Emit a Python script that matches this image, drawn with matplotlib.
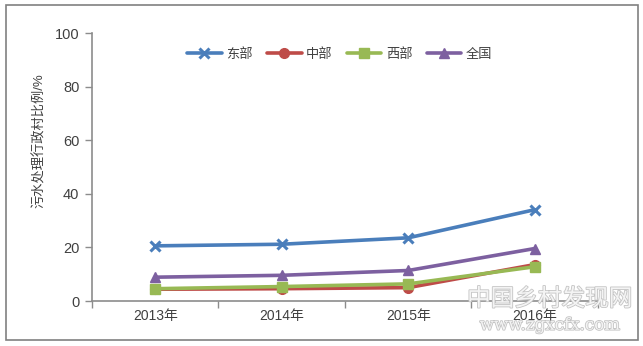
import matplotlib
matplotlib.use('Agg')
import matplotlib.pyplot as plt
import matplotlib.patheffects as pe
from matplotlib.patches import Rectangle
import numpy as np

plt.rcParams['font.family'] = ['Liberation Sans', 'Noto Sans CJK SC']

years = ['2013年', '2014年', '2015年', '2016年']
east = [20.6, 21.2, 23.6, 34.1]
central = [4.4, 4.6, 5.0, 13.6]
west = [4.6, 5.4, 6.4, 12.8]
national = [8.9, 9.6, 11.4, 19.6]

series = [
    ('东部', east, '#4a7ebb', 'x'),
    ('中部', central, '#be4b48', 'o'),
    ('西部', west, '#98b954', 's'),
    ('全国', national, '#7d60a0', '^'),
]

axis_col = '#8c8c8c'
text_col = '#404040'

fig = plt.figure(figsize=(6.43, 3.46), dpi=100)
ax = fig.add_axes([0.143, 0.130, 0.787, 0.774])

x = np.arange(len(years))
for name, vals, col, mk in series:
    ax.plot(x, vals, color=col, lw=2.6, marker=mk, ms=7,
            mew=2.2 if mk == 'x' else 1, label=name, solid_capstyle='round')

ax.set_xlim(-0.5, len(years) - 0.5)
ax.set_ylim(0, 100)
ax.set_yticks(np.arange(0, 101, 20))
ax.set_xticks(x)
ax.set_xticklabels(years)
ax.set_xticks(np.arange(-0.5, len(years), 1.0), minor=True)
ax.tick_params(axis='x', which='major', length=0, pad=6,
               labelsize=10, labelcolor=text_col)
ax.tick_params(axis='x', which='minor', length=5, color=axis_col, width=1)
ax.tick_params(axis='y', length=5, color=axis_col, width=1, pad=4,
               labelsize=10.5, labelcolor=text_col)
for s in ['top', 'right']:
    ax.spines[s].set_visible(False)
for s in ['left', 'bottom']:
    ax.spines[s].set_color(axis_col)
    ax.spines[s].set_linewidth(1.2)

ax.set_ylabel('污水处理行政村比例/%', fontsize=9.5, color=text_col)
ax.yaxis.set_label_coords(-0.09, 0.6)

leg = ax.legend(loc='center', bbox_to_anchor=(0.49, 0.92), ncol=4,
                frameon=False, fontsize=9.5, handlelength=2.6,
                columnspacing=1.1, handletextpad=0.35)
for t in leg.get_texts():
    t.set_color(text_col)

# faint site mark in the lower right
outline = [pe.withStroke(linewidth=1.2, foreground='#c4c4c4')]
fig.text(0.855, 0.135, '中国乡村发现网', fontsize=17, color='#f4f4f4',
         ha='center', va='center', zorder=0, path_effects=outline)
fig.text(0.855, 0.06, 'www.zgxcfx.com', fontsize=12, color='#f4f4f4',
         ha='center', va='center', zorder=0, family='DejaVu Serif',
         path_effects=outline)

# outer frame
fig.patches.append(Rectangle((0.009, 0.017), 0.983, 0.968,
                             transform=fig.transFigure, fill=False,
                             edgecolor='#808080', lw=1.2))

fig.savefig('out.png', dpi=100)
